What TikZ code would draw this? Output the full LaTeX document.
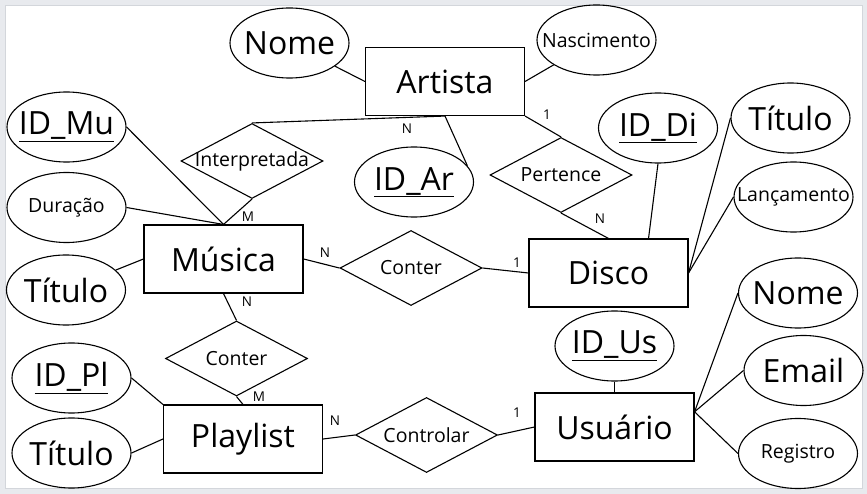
\documentclass[tikz,border=0pt]{standalone}
\usepackage{fontspec}
\setmainfont{Open Sans}
\usepackage{tikz}
\usetikzlibrary{shapes.geometric, calc}
\usepackage{xcolor}
\definecolor{erMoldura}{HTML}{E8EAEE}
\definecolor{erMolduraLinha}{HTML}{D3D6DB}
\newcommand{\fonteG}{\fontsize{32}{36}\selectfont}
\newcommand{\fonteM}{\fontsize{19.5}{22}\selectfont}
\newcommand{\fonteP}{\fontsize{13.5}{15}\selectfont}
\newcommand{\centrado}[1]{\makebox[0pt]{#1}}

\begin{document}
\begin{tikzpicture}[x=1pt, y=-1pt, line width=1.1pt,
    entidade/.style={draw, rectangle, minimum width=159pt, minimum height=68pt, inner sep=0pt, font=\fonteG},
    relacao/.style={draw, diamond, aspect=1.9, minimum width=142pt, minimum height=75pt, inner sep=0pt, font=\fonteM},
    atributo/.style={draw, ellipse, minimum width=119pt, minimum height=70pt, inner sep=0pt},
    card/.style={font=\fonteP, inner sep=0pt}]
  \useasboundingbox (0,0) rectangle (867,494);
  % Moldura
  \fill[erMoldura] (0,0) rectangle (867,494);
  \filldraw[fill=white, draw=erMolduraLinha, line width=0.8pt] (5,5) rectangle (862,488);

  % Entidades
  \node[entidade] (artista) at (445,81.5) {Artista};
  \node[entidade] (musica) at (223.5,259) {Música};
  \node[entidade] (disco) at (608.5,273) {Disco};
  \node[entidade] (playlist) at (243,439) {Playlist};
  \node[entidade] (usuario) at (614.5,427) {Usuário};

  % Relacionamentos
  \node[relacao] (interpretada) at (252,161) {\centrado{Interpretada}};
  \node[relacao] (pertence) at (561,175) {Pertence};
  \node[relacao] (conterMD) at (411,268) {Conter};
  \node[relacao] (conterMP) at (236.5,358.5) {Conter};
  \node[relacao] (controlar) at (426.5,435) {Controlar};

  % Atributos (nome, x, y, fonte, texto)
  \foreach \nome/\x/\y/\fonte/\texto in {%
    nomeAr/289.5/43/\fonteG/Nome,
    nascimento/596.5/40/\fonteM/Nascimento,
    idAr/414/182/\fonteG/{\underline{ID\_Ar}},
    idMu/66.5/127/\fonteG/{\underline{ID\_Mu}},
    duracao/66.5/207.5/\fonteM/Duração,
    tituloMu/66/290/\fonteG/Título,
    idDi/658/128/\fonteG/{\underline{ID\_Di}},
    tituloDi/790.5/118/\fonteG/Título,
    lancamento/793.5/197/\fonteM/Lançamento,
    idPl/71.5/378/\fonteG/{\underline{ID\_Pl}},
    tituloPl/71.5/453/\fonteG/Título,
    idUs/614.5/346/\fonteG/{\underline{ID\_Us}},
    nomeUs/798/293/\fonteG/Nome,
    email/803.5/370.5/\fonteG/Email,
    registro/798/453.5/\fonteM/Registro%
  } {
    \node[atributo, font=\fonte] (\nome) at (\x,\y) {\centrado{\texto}};
  }

  % Ligacoes de Artista
  \draw (nomeAr) -- (artista.west);
  \draw (artista.east) -- (nascimento);
  \draw (interpretada.north) -- (artista.south);
  \draw (artista.south) -- (idAr.17);
  \draw (artista.south east) -- (pertence.north);
  \draw (pertence.south) -- (disco.north);
  % Ligacoes de Disco
  \draw (idDi.south) -- ($(disco.north)!0.5!(disco.north east)$);
  \draw (tituloDi.west) -- (disco.east);
  \draw (lancamento.west) -- (disco.east);
  % Ligacoes de Musica
  \draw (idMu.east) -- (musica.north);
  \draw (duracao.east) -- (musica.north);
  \draw (interpretada.south) -- (musica.north);
  \draw (tituloMu) -- (musica.west);
  \draw (musica.east) -- (conterMD.west);
  \draw (conterMD.east) -- (disco.west);
  \draw (musica.south) -- (conterMP.north);
  \draw (conterMP.south) -- (playlist.north);
  % Ligacoes de Playlist
  \draw (idPl.east) -- (playlist.north west);
  \draw (tituloPl.east) -- (playlist.west);
  \draw (playlist.east) -- (controlar.west);
  \draw (controlar.east) -- (usuario.west);
  % Ligacoes de Usuario
  \coordinate (usLado) at ($(usuario.north east)!0.28!(usuario.south east)$);
  \draw (idUs.south) -- (usuario.north);
  \draw (nomeUs.west) -- (usLado);
  \draw (email.west) -- (usLado);
  \draw (registro.west) -- (usLado);

  % Cardinalidades
  \foreach \nome/\x/\y/\texto in {%
    cInterpArt/407/129/N, cInterpMus/248/217/M,
    cPertArt/547/115/1, cPertDis/600/219/N,
    cConterMus/325/253/N, cConterDis/517/263/1,
    cConterMusP/247/302/N, cConterPl/259/397/M,
    cControlPl/335/421/N, cControlUs/517/413/1%
  } {
    \node[card] (\nome) at (\x,\y) {\texto};
  }
\end{tikzpicture}
\end{document}
